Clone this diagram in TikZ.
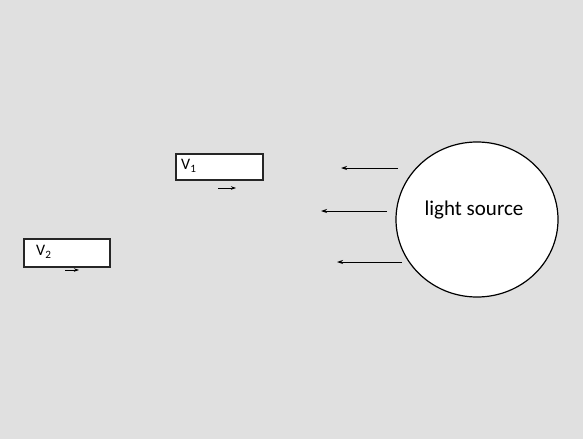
\documentclass[tikz,border=0pt]{standalone}
\usepackage{fontspec}
\setmainfont{Carlito}
\usetikzlibrary{arrows.meta,shapes.geometric}
\definecolor{bgc}{RGB}{224,224,224}
\tikzset{
  vbox/.style={draw=black!85, line width=1.5pt, fill=white, anchor=north west, minimum width=87pt, minimum height=26pt, inner sep=0pt},
  vlabel/.style={anchor=west, font=\fontsize{16}{18}\selectfont, inner sep=0pt},
  ray/.style={draw=black, line width=0.9pt, -{Stealth[length=6pt,width=4pt]}},
  small/.style={draw=black, line width=0.8pt, -{Stealth[length=5pt,width=3.5pt]}}
}
\begin{document}
\begin{tikzpicture}[x=1pt,y=-1pt]
\useasboundingbox (0,0) rectangle (583,439);
\fill[bgc] (0,0) rectangle (583,439);
% boxes
\node[vbox, minimum width=87pt, minimum height=26pt] (v1) at (175,153) {};
\node[vlabel] (v1t) at (181,166) {V\textsubscript{1}};
\node[vbox, minimum width=86pt, minimum height=28pt] (v2) at (23,238) {};
\node[vlabel] (v2t) at (36,252) {V\textsubscript{2}};
% velocity arrows
\coordinate (a1s) at (218,188); \coordinate (a1e) at (236,188);
\draw[small] (a1s) -- (a1e);
\coordinate (a2s) at (65,270); \coordinate (a2e) at (79,270);
\draw[small] (a2s) -- (a2e);
% light source
\node[draw=black, line width=1.2pt, fill=white, ellipse, minimum width=162pt, minimum height=155pt, inner sep=0pt] (ls) at (477,219.5) {};
\node[font=\fontsize{21}{24}\selectfont, inner sep=0pt] (lst) at (474,210) {light source};
% rays
\coordinate (r1s) at (398,168); \coordinate (r1e) at (341,168);
\coordinate (r2s) at (387,211); \coordinate (r2e) at (321,211);
\coordinate (r3s) at (402,262); \coordinate (r3e) at (337,262);
\draw[ray] (r1s) -- (r1e);
\draw[ray] (r2s) -- (r2e);
\draw[ray] (r3s) -- (r3e);
\end{tikzpicture}
\end{document}
